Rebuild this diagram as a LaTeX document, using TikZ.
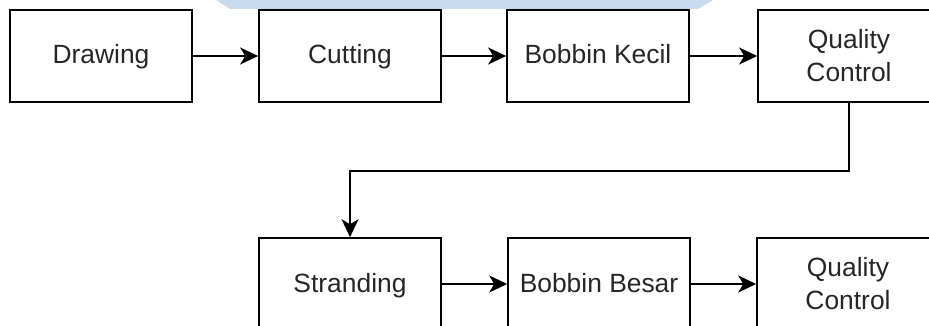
\documentclass[tikz,border=0pt]{standalone}
\usepackage{fontspec}
\setmainfont{Liberation Sans}
\usetikzlibrary{arrows.meta}
\definecolor{bandblue}{HTML}{C8DBEE}
\definecolor{txt}{HTML}{262626}
\tikzset{
  stepbox/.style={draw=black, line width=1.6pt, minimum width=182pt, minimum height=92pt,
    inner sep=0pt, align=center, font=\fontsize{26.4pt}{33pt}\selectfont, text=txt},
  oneline/.style={stepbox, text height=20pt, text depth=4pt},
  flow/.style={draw=black, line width=1.6pt,
    -{Stealth[length=18pt 0, width=17pt 0, inset=5pt 0]}}
}
\begin{document}
\begin{tikzpicture}[x=1pt, y=-1pt]
  \useasboundingbox (0,0) rectangle (929,326);
  \clip (0,0) rectangle (929,326);
  % pale banner at the top edge
  \fill[bandblue] (216,0) -- (230,9) -- (698,9) -- (713,0) -- cycle;
  % first row
  \node[oneline] (drawing) at (101,56) {Drawing};
  \node[oneline] (cutting) at (350,56) {Cutting};
  \node[oneline] (bkecil)  at (598,56) {Bobbin Kecil};
  \node[stepbox] (qc1)     at (849,56) {Quality\\Control};
  % second row
  \node[oneline] (strand)  at (350,284) {Stranding};
  \node[oneline] (bbesar)  at (599,284) {Bobbin Besar};
  \node[stepbox] (qc2)     at (848,284) {Quality\\Control};
  % connectors
  \draw[flow] (drawing) -- (cutting);
  \draw[flow] (cutting) -- (bkecil);
  \draw[flow] (bkecil) -- (qc1);
  \coordinate (turnR) at (849,171);
  \coordinate (turnL) at (350,171);
  \draw[flow] (qc1.south) -- (turnR) -- (turnL) -- (strand.north);
  \draw[flow] (strand) -- (bbesar);
  \draw[flow] (bbesar) -- (qc2);
\end{tikzpicture}
\end{document}
